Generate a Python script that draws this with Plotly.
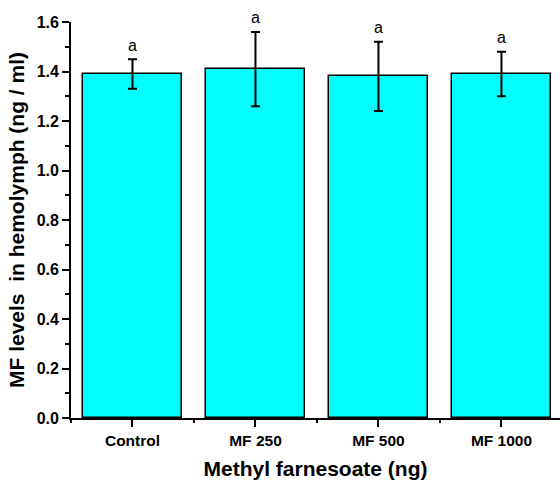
import plotly.graph_objects as go

categories = ["Control", "MF 250", "MF 500", "MF 1000"]
means = [1.39, 1.41, 1.38, 1.39]
errors = [0.06, 0.15, 0.14, 0.09]
letters = ["a", "a", "a", "a"]
y_ticks = [0.0, 0.2, 0.4, 0.6, 0.8, 1.0, 1.2, 1.4, 1.6]

xs = list(range(len(categories)))

fig = go.Figure()
fig.add_trace(go.Bar(
    x=xs, y=means, width=0.805,
    marker=dict(color="#00FFFF", line=dict(color="black", width=1.5)),
    error_y=dict(type="data", array=errors, visible=True, color="black",
                 thickness=2, width=4.5),
    showlegend=False,
))

for x, m, e, t in zip(xs, means, errors, letters):
    fig.add_annotation(x=x, y=m + e, text=t, showarrow=False, yshift=14,
                       font=dict(family="Liberation Sans, Arial", size=16, color="black"))

font_b = "Liberation Sans, Arial"
fig.update_layout(
    width=560, height=480,
    margin=dict(l=71, r=0, t=22, b=62),
    plot_bgcolor="white", paper_bgcolor="white",
    bargap=0,
    xaxis=dict(
        range=[-0.5, 3.476], tickvals=xs, ticktext=categories, automargin=False,
        ticks="outside", ticklen=7, tickwidth=1.5, tickcolor="black",
        showline=True, linecolor="black", linewidth=1.8, showgrid=False, zeroline=False,
        tickfont=dict(family=font_b, size=15.5, color="black", weight="bold"),
        minor=dict(ticks="outside", ticklen=3, tickwidth=1.5, tickcolor="black",
                   tick0=0.5, dtick=1, showgrid=False),
        title=dict(text="Methyl farnesoate (ng)", standoff=20,
                   font=dict(family=font_b, size=21, color="black", weight="bold")),
    ),
    yaxis=dict(
        range=[0, 1.6], tickvals=y_ticks, tickformat=".1f", automargin=False,
        ticks="outside", ticklen=7, tickwidth=1.5, tickcolor="black",
        showline=True, linecolor="black", linewidth=1.8, showgrid=False, zeroline=False,
        tickfont=dict(family=font_b, size=16, color="black", weight="bold"),
        minor=dict(ticks="outside", ticklen=4, tickwidth=1.5, tickcolor="black",
                   dtick=0.1, showgrid=False),
        title=dict(text="MF levels\u00a0\u00a0in hemolymph (ng / ml)", standoff=6,
                   font=dict(family=font_b, size=21, color="black", weight="bold")),
    ),
)

fig.write_html("out.html")
